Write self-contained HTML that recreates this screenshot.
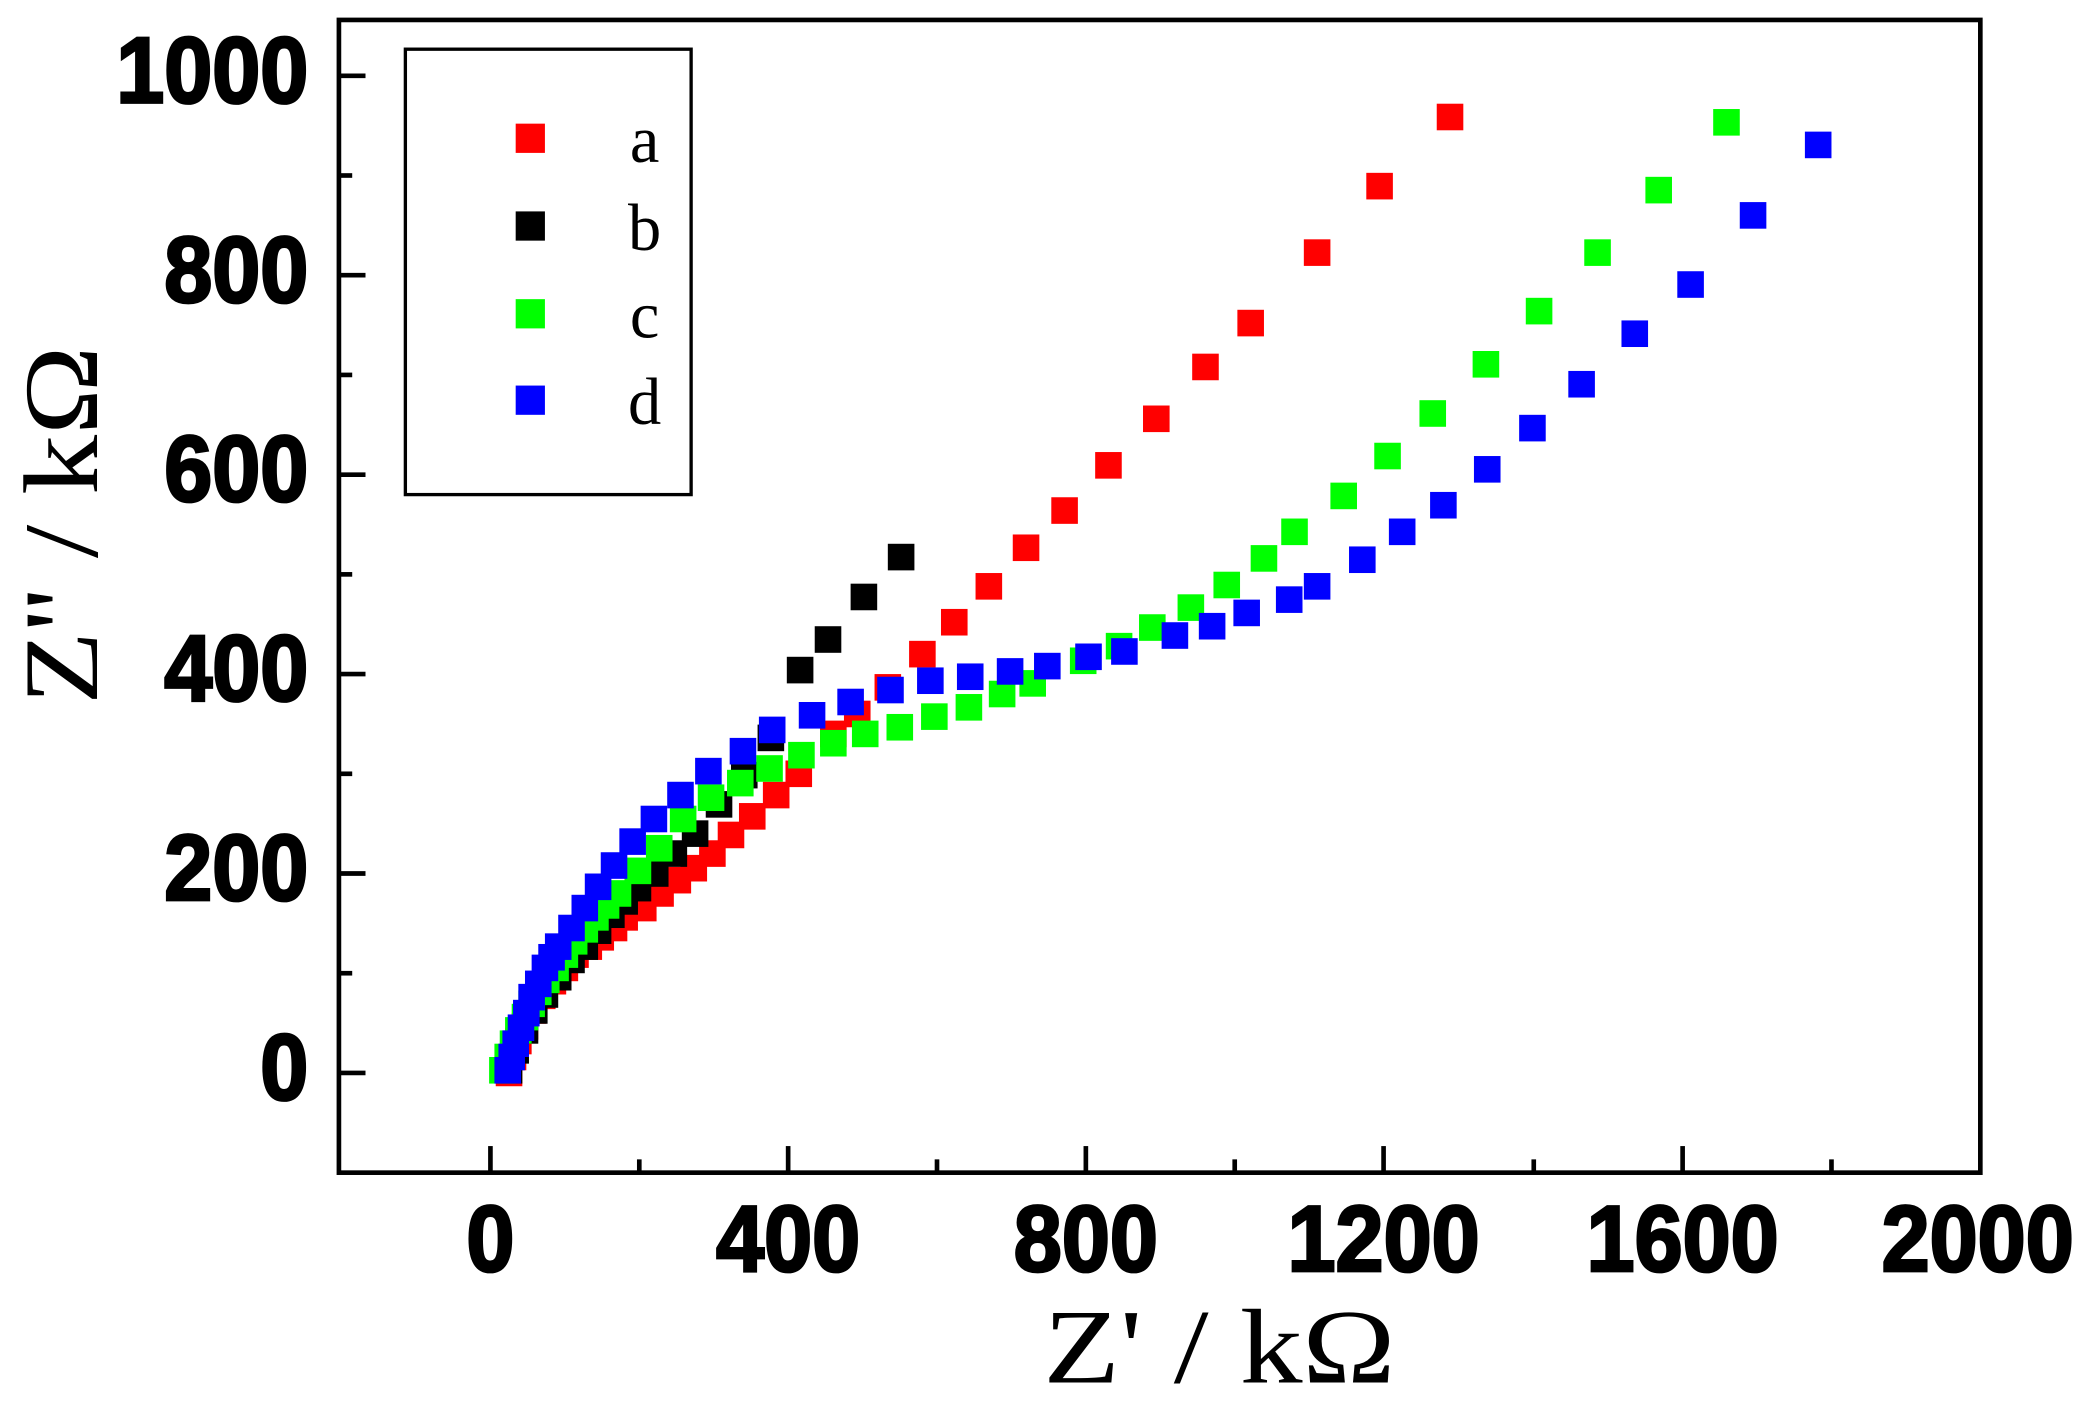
<!DOCTYPE html>
<html><head><meta charset="utf-8"><style>html,body{margin:0;padding:0;background:#fff}svg{display:block}</style></head>
<body>
<svg width="2084" height="1404" viewBox="0 0 1568 1056" preserveAspectRatio="none" xmlns="http://www.w3.org/2000/svg">
<rect width="1568" height="1056" fill="#fff"/>
<g fill="#f00">
<rect x="373" y="797" width="20" height="20"/><rect x="376" y="785" width="20" height="20"/><rect x="380" y="773" width="20" height="20"/><rect x="385" y="762" width="20" height="20"/><rect x="391" y="750" width="20" height="20"/><rect x="398" y="739" width="20" height="20"/><rect x="406" y="728" width="20" height="20"/><rect x="415" y="718" width="20" height="20"/><rect x="423" y="708" width="20" height="20"/><rect x="433" y="702" width="20" height="20"/><rect x="442" y="695" width="20" height="20"/><rect x="452" y="688" width="20" height="20"/><rect x="460" y="680" width="20" height="20"/><rect x="474" y="673" width="20" height="20"/><rect x="487" y="662" width="20" height="20"/><rect x="500" y="652" width="20" height="20"/><rect x="512" y="643" width="20" height="20"/><rect x="526" y="632" width="20" height="20"/><rect x="540" y="618" width="20" height="20"/><rect x="556" y="604" width="20" height="20"/><rect x="574" y="588" width="20" height="20"/><rect x="591" y="572" width="20" height="20"/><rect x="617" y="542" width="20" height="20"/><rect x="635" y="527" width="20" height="20"/><rect x="658" y="507" width="20" height="20"/><rect x="684" y="482" width="20" height="20"/><rect x="708" y="458" width="20" height="20"/><rect x="734" y="431" width="20" height="20"/><rect x="762" y="402" width="20" height="20"/><rect x="791" y="374" width="20" height="20"/><rect x="824" y="340" width="20" height="20"/><rect x="860" y="305" width="20" height="20"/><rect x="897" y="266" width="20" height="20"/><rect x="931" y="233" width="20" height="20"/><rect x="981" y="180" width="20" height="20"/><rect x="1028" y="130" width="20" height="20"/><rect x="1081" y="78" width="20" height="20"/>
</g>
<g fill="#000">
<rect x="373" y="795" width="20" height="20"/><rect x="378" y="780" width="20" height="20"/><rect x="385" y="765" width="20" height="20"/><rect x="392" y="750" width="20" height="20"/><rect x="400" y="738" width="20" height="20"/><rect x="410" y="725" width="20" height="20"/><rect x="420" y="712" width="20" height="20"/><rect x="430" y="702" width="20" height="20"/><rect x="440" y="690" width="20" height="20"/><rect x="450" y="678" width="20" height="20"/><rect x="460" y="668" width="20" height="20"/><rect x="470" y="658" width="20" height="20"/><rect x="483" y="647" width="20" height="20"/><rect x="497" y="632" width="20" height="20"/><rect x="513" y="617" width="20" height="20"/><rect x="531" y="595" width="20" height="20"/><rect x="550" y="573" width="20" height="20"/><rect x="570" y="545" width="20" height="20"/><rect x="592" y="494" width="20" height="20"/><rect x="613" y="471" width="20" height="20"/><rect x="640" y="439" width="20" height="20"/><rect x="668" y="409" width="20" height="20"/>
</g>
<g fill="#0f0">
<rect x="368" y="795" width="20" height="20"/><rect x="372" y="785" width="20" height="20"/><rect x="376" y="775" width="20" height="20"/><rect x="380" y="765" width="20" height="20"/><rect x="385" y="755" width="20" height="20"/><rect x="390" y="745" width="20" height="20"/><rect x="395" y="736" width="20" height="20"/><rect x="401" y="727" width="20" height="20"/><rect x="408" y="718" width="20" height="20"/><rect x="415" y="708" width="20" height="20"/><rect x="422" y="698" width="20" height="20"/><rect x="430" y="689" width="20" height="20"/><rect x="438" y="680" width="20" height="20"/><rect x="446" y="671" width="20" height="20"/><rect x="455" y="662" width="20" height="20"/><rect x="470" y="645" width="20" height="20"/><rect x="486" y="628" width="20" height="20"/><rect x="504" y="606" width="20" height="20"/><rect x="525" y="590" width="20" height="20"/><rect x="547" y="579" width="20" height="20"/><rect x="569" y="568" width="20" height="20"/><rect x="593" y="558" width="20" height="20"/><rect x="617" y="549" width="20" height="20"/><rect x="641" y="542" width="20" height="20"/><rect x="667" y="537" width="20" height="20"/><rect x="693" y="529" width="20" height="20"/><rect x="719" y="522" width="20" height="20"/><rect x="744" y="512" width="20" height="20"/><rect x="767" y="504" width="20" height="20"/><rect x="805" y="487" width="20" height="20"/><rect x="832" y="476" width="20" height="20"/><rect x="857" y="462" width="20" height="20"/><rect x="886" y="447" width="20" height="20"/><rect x="913" y="430" width="20" height="20"/><rect x="941" y="410" width="20" height="20"/><rect x="964" y="390" width="20" height="20"/><rect x="1001" y="363" width="20" height="20"/><rect x="1034" y="333" width="20" height="20"/><rect x="1068" y="301" width="20" height="20"/><rect x="1108" y="264" width="20" height="20"/><rect x="1148" y="224" width="20" height="20"/><rect x="1192" y="180" width="20" height="20"/><rect x="1238" y="133" width="20" height="20"/><rect x="1289" y="82" width="20" height="20"/>
</g>
<g fill="#00f">
<rect x="372" y="795" width="20" height="20"/><rect x="375" y="785" width="20" height="20"/><rect x="378" y="775" width="20" height="20"/><rect x="382" y="763" width="20" height="20"/><rect x="386" y="752" width="20" height="20"/><rect x="390" y="740" width="20" height="20"/><rect x="395" y="730" width="20" height="20"/><rect x="400" y="718" width="20" height="20"/><rect x="405" y="710" width="20" height="20"/><rect x="410" y="702" width="20" height="20"/><rect x="420" y="688" width="20" height="20"/><rect x="430" y="673" width="20" height="20"/><rect x="440" y="657" width="20" height="20"/><rect x="452" y="641" width="20" height="20"/><rect x="466" y="623" width="20" height="20"/><rect x="482" y="606" width="20" height="20"/><rect x="502" y="588" width="20" height="20"/><rect x="523" y="570" width="20" height="20"/><rect x="549" y="555" width="20" height="20"/><rect x="571" y="539" width="20" height="20"/><rect x="601" y="528" width="20" height="20"/><rect x="630" y="518" width="20" height="20"/><rect x="660" y="509" width="20" height="20"/><rect x="690" y="502" width="20" height="20"/><rect x="720" y="499" width="20" height="20"/><rect x="750" y="495" width="20" height="20"/><rect x="778" y="491" width="20" height="20"/><rect x="809" y="484" width="20" height="20"/><rect x="836" y="480" width="20" height="20"/><rect x="874" y="468" width="20" height="20"/><rect x="902" y="461" width="20" height="20"/><rect x="928" y="451" width="20" height="20"/><rect x="960" y="441" width="20" height="20"/><rect x="981" y="431" width="20" height="20"/><rect x="1015" y="411" width="20" height="20"/><rect x="1045" y="390" width="20" height="20"/><rect x="1076" y="370" width="20" height="20"/><rect x="1109" y="343" width="20" height="20"/><rect x="1143" y="312" width="20" height="20"/><rect x="1180" y="279" width="20" height="20"/><rect x="1220" y="241" width="20" height="20"/><rect x="1262" y="204" width="20" height="20"/><rect x="1309" y="152" width="20" height="20"/><rect x="1358" y="99" width="20" height="20"/>
</g>
<rect x="255" y="15" width="1235" height="867" fill="none" stroke="#000" stroke-width="3.5"/>
<g stroke="#000" stroke-width="3.5">
<line x1="255" y1="807" x2="275" y2="807"/><line x1="255" y1="657" x2="275" y2="657"/><line x1="255" y1="507" x2="275" y2="507"/><line x1="255" y1="357" x2="275" y2="357"/><line x1="255" y1="207" x2="275" y2="207"/><line x1="255" y1="57" x2="275" y2="57"/>
<line x1="255" y1="732" x2="265" y2="732"/><line x1="255" y1="582" x2="265" y2="582"/><line x1="255" y1="432" x2="265" y2="432"/><line x1="255" y1="282" x2="265" y2="282"/><line x1="255" y1="132" x2="265" y2="132"/>
<line x1="369" y1="882" x2="369" y2="862"/><line x1="593" y1="882" x2="593" y2="862"/><line x1="817" y1="882" x2="817" y2="862"/><line x1="1041" y1="882" x2="1041" y2="862"/><line x1="1266" y1="882" x2="1266" y2="862"/>
<line x1="481" y1="882" x2="481" y2="872"/><line x1="705" y1="882" x2="705" y2="872"/><line x1="929" y1="882" x2="929" y2="872"/><line x1="1154" y1="882" x2="1154" y2="872"/><line x1="1378" y1="882" x2="1378" y2="872"/>
</g>
<g font-family="Liberation Sans, sans-serif" font-weight="bold" font-size="65" fill="#000" stroke="#000" stroke-width="2">
<g text-anchor="end">
<text transform="translate(232,827) scale(1,1.08)">0</text>
<text transform="translate(232,677) scale(1,1.08)">200</text>
<text transform="translate(232,527) scale(1,1.08)">400</text>
<text transform="translate(232,377) scale(1,1.08)">600</text>
<text transform="translate(232,227) scale(1,1.08)">800</text>
<text transform="translate(232,77) scale(1,1.08)">1000</text>
</g>
<g text-anchor="middle">
<text transform="translate(369,956) scale(1,1.08)">0</text>
<text transform="translate(593,956) scale(1,1.08)">400</text>
<text transform="translate(817,956) scale(1,1.08)">800</text>
<text transform="translate(1041,956) scale(1,1.08)">1200</text>
<text transform="translate(1266,956) scale(1,1.08)">1600</text>
<text transform="translate(1488,956) scale(1,1.08)">2000</text>
</g>
</g>
<g font-family="Liberation Serif, serif" font-size="80" fill="#000">
<text x="785" y="1040" textLength="265" lengthAdjust="spacingAndGlyphs">Z' / kΩ</text>
<text transform="translate(73,530) rotate(-90)" textLength="270" lengthAdjust="spacingAndGlyphs">Z'' / kΩ</text>
</g>
<rect x="305" y="37" width="215" height="335" fill="#fff" stroke="#000" stroke-width="2.5"/>
<rect x="388" y="93" width="22" height="22" fill="#f00"/><rect x="388" y="159" width="22" height="22" fill="#000"/><rect x="388" y="225" width="22" height="22" fill="#0f0"/><rect x="388" y="290" width="22" height="22" fill="#00f"/>
<g font-family="Liberation Serif, serif" font-size="50" fill="#000" text-anchor="middle">
<text x="485" y="122">a</text><text x="485" y="188">b</text><text x="485" y="254">c</text><text x="485" y="319">d</text></g>
</svg>
</body></html>
